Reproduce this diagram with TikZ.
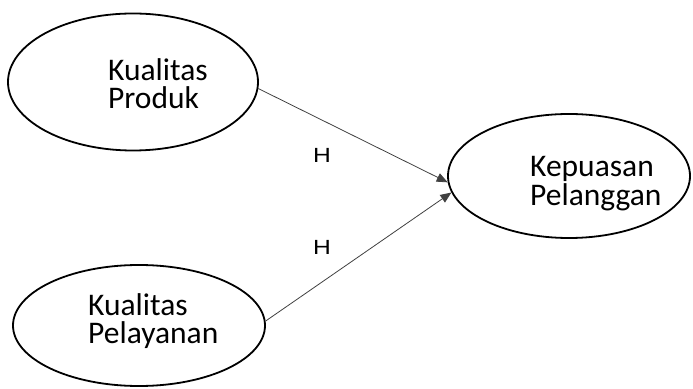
\documentclass[tikz,border=0pt]{standalone}
\usepackage{fontspec}
\setmainfont{Carlito}
\newfontfamily\hfont{Liberation Sans}
\usetikzlibrary{positioning,shapes.geometric,arrows.meta}

\begin{document}
\begin{tikzpicture}[x=1pt, y=1pt,
    latent/.style={ellipse, draw, line width=1.8pt, inner sep=0pt},
    lbl/.style={anchor=west, align=left, inner sep=0pt, font=\fontsize{31.5}{28.5}\selectfont},
    hyp/.style={font=\hfont\fontsize{20.5}{20.5}\selectfont, xscale=1.2, transform shape},
    effect/.style={-{Triangle[length=11pt,width=9pt]}, draw=black!75, line width=0.8pt}]
  \useasboundingbox (0,0) rectangle (693,388);
  \node [latent, minimum width=250pt, minimum height=137pt] (produk) at (133,306) {};
  \node [latent, minimum width=252pt, minimum height=121pt] (pelayanan) at (139,62.5) {};
  \node [latent, minimum width=242pt, minimum height=124pt] (puas) at (569,212) {};
  \node [lbl] (produktxt) at ([xshift=-25pt, yshift=-1.5pt]produk.center) {Kualitas\\Produk};
  \node [lbl] (pelayanantxt) at ([xshift=-51pt, yshift=4.5pt]pelayanan.center) {Kualitas\\Pelayanan};
  \node [lbl] (puastxt) at ([xshift=-39pt, yshift=-7.5pt]puas.center) {Kepuasan\\Pelanggan};
  \node [hyp] (h1) at (322,233) {H};
  \node [hyp] (h2) at (322,141) {H};
  \draw [effect] (produk.-3) -- (puas.183);
  \draw [effect] (pelayanan.2) -- (puas.188);
\end{tikzpicture}
\end{document}
